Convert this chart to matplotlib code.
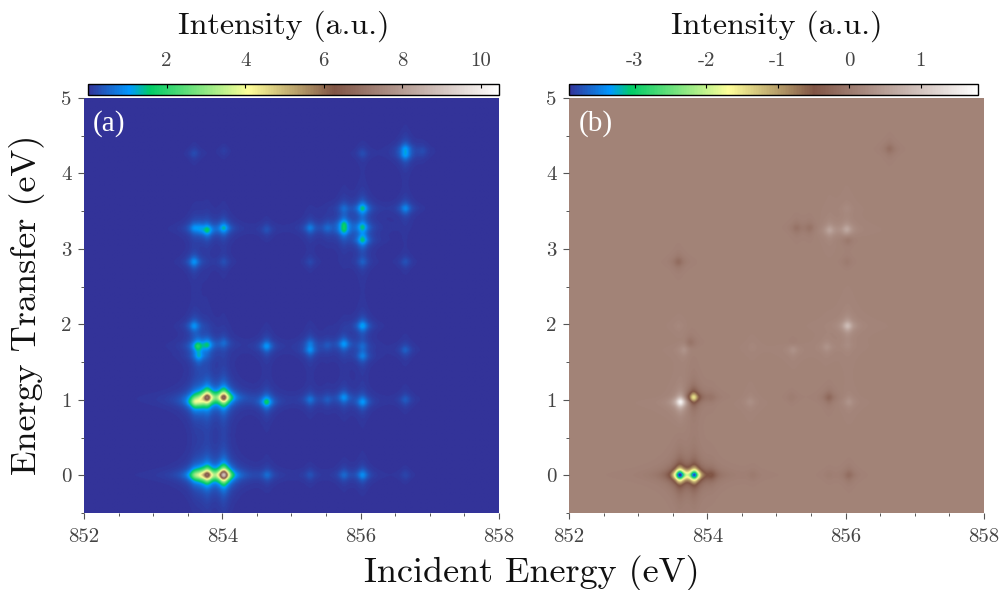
import numpy as np
import matplotlib
matplotlib.use('Agg')
import matplotlib.pyplot as plt
from matplotlib.colors import LinearSegmentedColormap
from matplotlib.ticker import MultipleLocator

# peaks
a_energy = [853.60, 853.68, 853.78, 854.02, 854.65, 855.27, 855.76, 856.03, 856.65,
            853.60, 853.68, 853.78, 854.02, 854.64, 855.27, 855.52, 855.76, 856.03, 856.65,
            853.64, 853.66, 853.78, 854.02, 854.64, 855.27, 855.27, 855.52, 855.76, 856.03, 856.03, 856.65,
            853.59, 856.03,
            853.59, 854.02, 855.27, 856.03, 856.65,
            853.59, 853.67, 853.78, 854.02, 854.64, 855.27, 855.52, 855.76, 855.76, 856.03, 856.03,
            855.76, 856.03, 856.65,
            853.59, 854.02, 856.03, 856.65, 856.65, 856.90]
a_transfer = [0.0, 0.0, 0.0, 0.0, 0.0, 0.0, 0.0, 0.0, 0.0,
              0.97, 0.98, 1.03, 1.03, 0.97, 1.0, 1.0, 1.03, 0.97, 1.0,
              1.71, 1.58, 1.73, 1.755, 1.71, 1.75, 1.66, 1.72, 1.74, 1.71, 1.58, 1.66,
              1.98, 1.98,
              2.83, 2.83, 2.83, 2.83, 2.83,
              3.28, 3.28, 3.25, 3.28, 3.26, 3.28, 3.28, 3.25, 3.33, 3.29, 3.12,
              3.54, 3.54, 3.54,
              4.27, 4.30, 4.27, 4.33, 4.25, 4.30]
a_height = [1.7, 1.5, 5.8, 8.6, 0.5, 0.28, 0.5, 0.9, 0.18,
            2.6, 1.7, 6.2, 6.3, 1.6, 0.6, 0.32, 0.9, 1.0, 0.4,
            1.5, 0.9, 1.2, 0.45, 1.0, 0.42, 0.8, 0.28, 1.0, 0.35, 0.7, 0.45,
            0.9, 1.1,
            0.95, 0.25, 0.2, 0.38, 0.3,
            0.65, 0.5, 1.4, 1.25, 0.3, 0.7, 0.42, 1.1, 1.1, 1.2, 1.35,
            0.42, 1.4, 0.85,
            0.25, 0.12, 0.25, 0.8, 0.8, 0.2]

# peaks
b_energy = [853.60, 853.81, 854.06, 854.66, 855.76, 856.05,
            853.61, 853.80, 854.06, 854.62, 855.22, 855.76, 856.05,
            853.75, 853.66, 853.58, 854.65, 855.24, 855.24, 855.73, 856.03, 856.03,
            853.58, 856.02, 856.64, 855.29, 855.48, 855.77, 856.02, 856.03, 856.02]
b_transfer = [0.0, 0.0, 0.0, 0.0, 0.0, 0.0,
              0.97, 1.03, 1.03, 0.97, 1.03, 1.03, 0.97,
              1.76, 1.66, 1.98, 1.70, 1.66, 1.77, 1.70, 1.72, 1.98,
              2.83, 2.83, 4.33, 3.28, 3.28, 3.25, 3.26, 3.12, 3.54]
b_height = [-3.9, -3.6, -0.4, -0.08, -0.06, -0.28,
            1.6, -1.7, -0.12, 0.16, -0.08, -0.35, 0.22,
            -0.2, 0.22, 0.06, 0.05, 0.2, -0.08, 0.2, 0.08, 0.75,
            -0.3, -0.1, -0.25, -0.2, -0.2, 0.42, 0.5, -0.2, 0.08]

a_ticks = [2, 4, 6, 8, 10]
b_ticks = [-3, -2, -1, 0, 1]
b_tick_labels = ['-3', '-2', '-1', '0', '1']
a_range = (0.0, 10.46)
b_range = (-3.92, 1.8)
a_base = 0.0
b_base = 0.14

WIDTH, HEIGHT = 1006, 590
SERIF = 'cmr10'

cmap = LinearSegmentedColormap.from_list('terrain_stretched', [
    (0.0, (0.2, 0.2, 0.6)),
    (0.1, (0.0, 0.6, 1.0)),
    (0.15, (0.0, 0.8, 0.4)),
    (0.39, (1.0, 1.0, 0.6)),
    (0.6, (0.5, 0.33, 0.27)),
    (1.0, (1.0, 1.0, 1.0)),
])


def px_axes(fig, left, top, right, bottom):
    return fig.add_axes([left / WIDTH, 1 - bottom / HEIGHT, (right - left) / WIDTH, (bottom - top) / HEIGHT])


def build_map(energy, transfer, height, base, x, y):
    xx, yy = np.meshgrid(x, y)
    z = np.full(xx.shape, base, dtype=float)
    for e, t, h in zip(energy, transfer, height):
        core = 1 / ((1 + ((xx - e) / 0.078) ** 2) ** 1.5 * (1 + ((yy - t) / 0.075) ** 2) ** 1.5)
        tail = 1 / ((1 + ((xx - e) / 0.09) ** 2) * (1 + ((yy - t) / 0.09) ** 2))
        z += h * (0.7 * core + 0.3 * tail)
    return z


def plot_panel(fig, box, cbar_box, energy, transfer, height, base, vrange, ticks, tick_labels, label, label_x):
    x = np.linspace(852, 858, 500)
    y = np.linspace(-0.5, 5, 500)
    z = build_map(energy, transfer, height, base, x, y)

    ax = px_axes(fig, *box)
    im = ax.imshow(z, origin='lower', extent=[852, 858, -0.5, 5], aspect='auto', cmap=cmap,
                   vmin=vrange[0], vmax=vrange[1], interpolation='bilinear')
    ax.set_xticks([852, 854, 856, 858])
    ax.set_xticklabels(['852', '854', '856', '858'])
    ax.set_yticks([0, 1, 2, 3, 4, 5])
    ax.set_yticklabels(['0', '1', '2', '3', '4', '5'])
    ax.xaxis.set_minor_locator(MultipleLocator(0.5))
    ax.yaxis.set_minor_locator(MultipleLocator(0.5))
    ax.tick_params(which='major', length=4, width=0.8, color='#555555', labelsize=15,
                   labelcolor='#444444', pad=5)
    ax.tick_params(axis='x', which='major', pad=7)
    ax.tick_params(which='minor', length=2, width=0.7, color='#555555')
    for s in ax.spines.values():
        s.set_visible(False)
    ax.text(label_x, 0.97, label, transform=ax.transAxes, color='white', fontsize=21,
            family='Liberation Serif', va='top', ha='left')

    cax = px_axes(fig, *cbar_box)
    cb = fig.colorbar(im, cax=cax, orientation='horizontal')
    cb.set_ticks(ticks)
    cb.set_ticklabels(tick_labels)
    cax.xaxis.set_ticks_position('top')
    cax.tick_params(direction='in', length=3, width=0.8, labelsize=15, labelcolor='#444444', pad=10)
    cb.outline.set_linewidth(1.0)
    return ax


def main():
    plt.rcParams['font.family'] = [SERIF, 'DejaVu Serif']
    plt.rcParams['axes.unicode_minus'] = False
    plt.rcParams['axes.formatter.use_mathtext'] = True

    fig = plt.figure(figsize=(WIDTH / 100, HEIGHT / 100), dpi=100)

    plot_panel(fig, (84, 98, 499, 513), (88, 84, 499, 95), a_energy, a_transfer, a_height, a_base,
               a_range, a_ticks, [str(t) for t in a_ticks], '(a)', 0.02)
    plot_panel(fig, (569, 98, 984, 513), (569, 84, 978, 95), b_energy, b_transfer, b_height, b_base,
               b_range, b_ticks, b_tick_labels, '(b)', 0.024)

    fig.text(284 / WIDTH, 1 - 26 / HEIGHT, 'Intensity (a.u.)', fontsize=23, ha='center', va='center', color='#111111')
    fig.text(777 / WIDTH, 1 - 26 / HEIGHT, 'Intensity (a.u.)', fontsize=23, ha='center', va='center', color='#111111')
    fig.text(532 / WIDTH, 1 - 573 / HEIGHT, 'Incident Energy (eV)', fontsize=26, ha='center', va='center', color='#111111')
    fig.text(27 / WIDTH, 1 - 305 / HEIGHT, 'Energy Transfer (eV)', fontsize=26, ha='center', va='center',
             rotation=90, color='#111111')

    fig.savefig('out.png', dpi=100)


if __name__ == "__main__":
    main()
